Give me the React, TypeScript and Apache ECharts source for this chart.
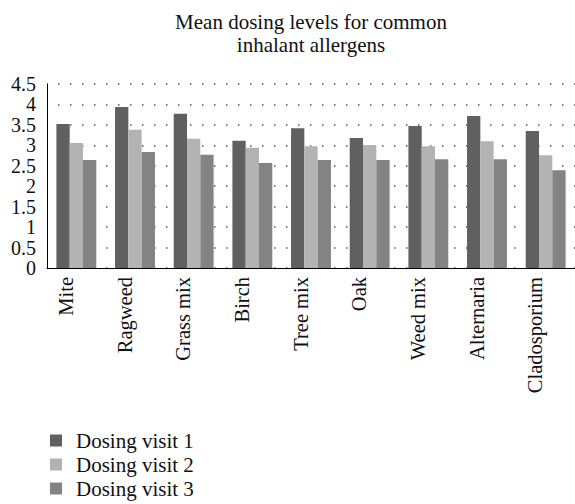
import React, { useEffect, useRef } from "react";
import * as echarts from "echarts";

const categories = ["Mite", "Ragweed", "Grass mix", "Birch", "Tree mix", "Oak", "Weed mix", "Alternaria", "Cladosporium"];
const visit1 = [3.52, 3.94, 3.77, 3.11, 3.42, 3.18, 3.47, 3.72, 3.35];
const visit2 = [3.06, 3.38, 3.16, 2.94, 2.98, 3.01, 2.98, 3.1, 2.76];
const visit3 = [2.64, 2.84, 2.77, 2.57, 2.64, 2.64, 2.66, 2.66, 2.39];
const seriesNames = ["Dosing visit 1", "Dosing visit 2", "Dosing visit 3"];
const colors = ["#606060", "#b3b3b3", "#838383"];

const FONT = "'Liberation Serif', 'DejaVu Serif', serif";

export default function App() {
  const ref = useRef<HTMLDivElement>(null);
  useEffect(() => {
    if (!ref.current) return;
    const chart = echarts.init(ref.current, null, { renderer: "svg" });
    const data = [visit1, visit2, visit3];
    chart.setOption({
      animation: false,
      textStyle: { fontFamily: FONT, color: "#000" },
      graphic: [
        {
          type: "text",
          x: 311,
          y: 10,
          style: {
            text: "Mean dosing levels for common\ninhalant allergens",
            font: `21px ${FONT}`,
            fill: "#111",
            align: "center",
            lineHeight: 23,
          },
        },
      ],
      legend: {
        orient: "vertical",
        left: 45,
        top: 425,
        height: 100,
        itemWidth: 12,
        itemHeight: 12,
        itemGap: 3,
        icon: "rect",
        data: seriesNames,
        textStyle: { fontFamily: FONT, fontSize: 21, lineHeight: 21, color: "#111", padding: [0, 0, 0, 9] },
      },
      grid: { left: 47, right: 0, top: 84, bottom: 236, containLabel: false },
      xAxis: {
        type: "category",
        data: categories,
        axisLine: { show: true, lineStyle: { color: "#000", width: 1 } },
        axisTick: { show: false },
        axisLabel: {
          rotate: 90,
          margin: 9,
          fontFamily: FONT,
          fontSize: 20.5,
          color: "#111",
          verticalAlign: "bottom",
        },
      },
      yAxis: {
        type: "value",
        min: 0,
        max: 4.5,
        interval: 0.5,
        axisLine: { show: true, lineStyle: { color: "#000", width: 1 } },
        axisTick: { show: false },
        axisLabel: { fontFamily: FONT, fontSize: 20, color: "#111", margin: 11 },
        splitLine: {
          show: true,
          lineStyle: { color: "#555", width: 1.5, type: [1.5, 10.5], dashOffset: 1 },
        },
      },
      series: seriesNames.map((name, i) => ({
        name,
        type: "bar",
        data: data[i],
        itemStyle: { color: colors[i] },
        barGap: "0%",
        barCategoryGap: "32%",
      })),
    });
    return () => chart.dispose();
  }, []);
  return <div ref={ref} style={{ width: 575, height: 504, position: "absolute", left: 0, top: 0 }} />;
}
